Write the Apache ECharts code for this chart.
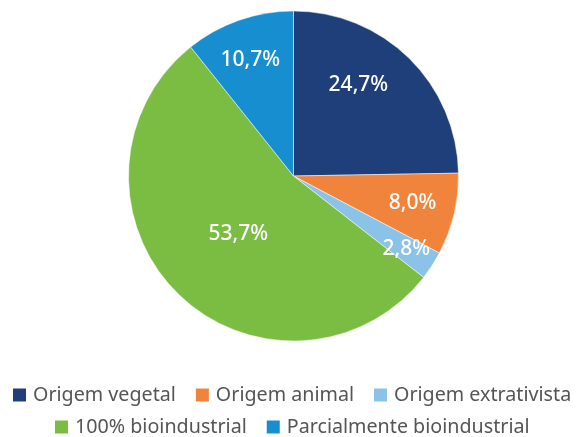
<!DOCTYPE html>
<html>
<head>
<meta charset="utf-8">
<script src="https://cdn.jsdelivr.net/npm/echarts@6/dist/echarts.min.js"></script>
<style>
  html, body { margin: 0; padding: 0; background: #fff; }
  #chart { width: 576px; height: 437px; }
</style>
</head>
<body>
<div id="chart"></div>
<script>
  var categories = ['Origem vegetal', 'Origem animal', 'Origem extrativista', '100% bioindustrial', 'Parcialmente bioindustrial'];
  var values = [24.7, 8.0, 2.8, 53.7, 10.7];
  var colors = ['#1f3f7b', '#f0843c', '#8bc3e8', '#7bbd43', '#178ecf'];
  // nudges so labels sit where the original puts them
  var labelOffsets = [[5, -30], [36, 7], [41, 27], [5, -3], [-15, -35]];

  var chart = echarts.init(document.getElementById('chart'));

  var pieData = categories.map(function (name, i) {
    return {
      name: name,
      value: values[i],
      itemStyle: { color: colors[i] },
      label: { offset: labelOffsets[i] }
    };
  });

  var legendBase = {
    orient: 'horizontal',
    icon: 'rect',
    width: 600,
    padding: 0,
    itemWidth: 15,
    itemHeight: 15,
    itemGap: 18,
    textStyle: { color: '#555', fontSize: 19.7, lineHeight: 20, fontFamily: 'Noto Sans', padding: [0, 0, 0, 1] }
  };

  chart.setOption({
    backgroundColor: '#fff',
    animation: false,
    legend: [
      Object.assign({}, legendBase, { data: categories.slice(0, 3), left: 11, top: 385 }),
      Object.assign({}, legendBase, { data: categories.slice(3), left: 53, top: 417 })
    ],
    series: [
      {
        type: 'pie',
        center: [293.5, 176],
        radius: [0, 165],
        startAngle: 90,
        clockwise: true,
        avoidLabelOverlap: false,
        itemStyle: { borderColor: '#fff', borderWidth: 0.5 },
        label: {
          show: true,
          position: 'inside',
          color: '#fff',
          fontSize: 21,
          fontWeight: 500,
          fontFamily: 'Noto Sans',
          formatter: function (p) {
            return p.value.toFixed(1).replace('.', ',') + '%';
          }
        },
        labelLine: { show: false },
        emphasis: { disabled: true },
        data: pieData
      }
    ]
  });
</script>
</body>
</html>
